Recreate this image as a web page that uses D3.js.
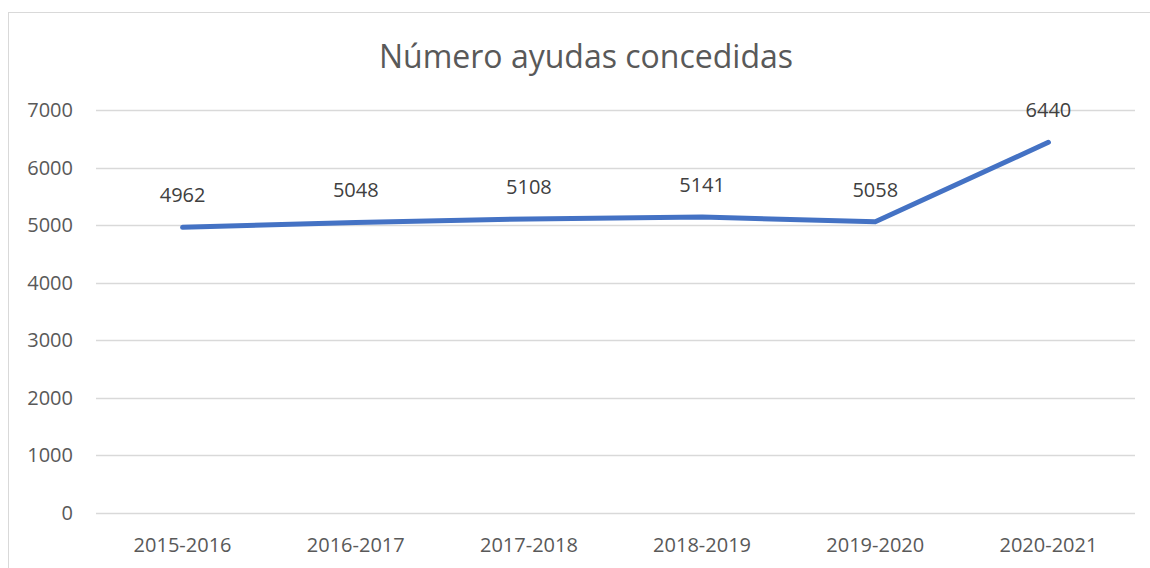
<!DOCTYPE html>
<html lang="es">
<head>
<meta charset="UTF-8">
<title>Número ayudas concedidas</title>
<script src="https://d3js.org/d3.v7.min.js"></script>
<style>
    body, html { margin: 0; padding: 0; overflow: hidden; background: #fff; }
    text { font-family: "Open Sans", "Liberation Sans", sans-serif; }
</style>
</head>
<body>
<svg id="chart" width="1150" height="568"></svg>
<script>
    const cursos = ["2015-2016", "2016-2017", "2017-2018", "2018-2019", "2019-2020", "2020-2021"];
    const ayudas = [4962, 5048, 5108, 5141, 5058, 6440];
    const yTicks = [0, 1000, 2000, 3000, 4000, 5000, 6000, 7000];

    const svg = d3.select("#chart");
    const margin = { left: 96, right: 15, top: 110, bottom: 55 };
    const width = 1150, height = 568;

    // chart frame
    svg.append("rect")
        .attr("x", 8.5).attr("y", 12.5)
        .attr("width", 1160).attr("height", 600)
        .attr("fill", "none").attr("stroke", "#d9d9d9").attr("stroke-width", 1);

    svg.append("text")
        .attr("x", 586).attr("y", 57)
        .attr("dy", "0.35em")
        .attr("text-anchor", "middle")
        .attr("font-size", 32)
        .attr("fill", "#595959")
        .text("Número ayudas concedidas");

    const x = d3.scaleBand()
        .domain(cursos)
        .range([margin.left, width - margin.right]);

    const y = d3.scaleLinear()
        .domain([0, 7000])
        .range([height - margin.bottom, margin.top]);

    // gridlines
    svg.append("g")
        .selectAll("line")
        .data(yTicks)
        .join("line")
        .attr("x1", margin.left).attr("x2", width - margin.right)
        .attr("y1", d => Math.round(y(d)) + 0.5).attr("y2", d => Math.round(y(d)) + 0.5)
        .attr("stroke", "#d9d9d9").attr("stroke-width", 1.3);

    svg.append("g")
        .selectAll("text")
        .data(yTicks)
        .join("text")
        .attr("x", 73).attr("y", d => y(d))
        .attr("dy", "0.35em")
        .attr("text-anchor", "end")
        .attr("font-size", 20)
        .attr("fill", "#595959")
        .text(d => d);

    svg.append("g")
        .selectAll("text")
        .data(cursos)
        .join("text")
        .attr("x", d => x(d) + x.bandwidth() / 2)
        .attr("y", 545)
        .attr("dy", "0.35em")
        .attr("text-anchor", "middle")
        .attr("font-size", 20)
        .attr("fill", "#595959")
        .text(d => d);

    const line = d3.line()
        .x((d, i) => x(cursos[i]) + x.bandwidth() / 2)
        .y(d => y(d));

    svg.append("path")
        .datum(ayudas)
        .attr("d", line)
        .attr("fill", "none")
        .attr("stroke", "#4472c4")
        .attr("stroke-width", 5)
        .attr("stroke-linecap", "round")
        .attr("stroke-linejoin", "round");

    svg.append("g")
        .selectAll("text")
        .data(ayudas)
        .join("text")
        .attr("x", (d, i) => x(cursos[i]) + x.bandwidth() / 2)
        .attr("y", d => y(d) - 32)
        .attr("dy", "0.35em")
        .attr("text-anchor", "middle")
        .attr("font-size", 20)
        .attr("fill", "#404040")
        .text(d => d);
</script>
</body>
</html>
